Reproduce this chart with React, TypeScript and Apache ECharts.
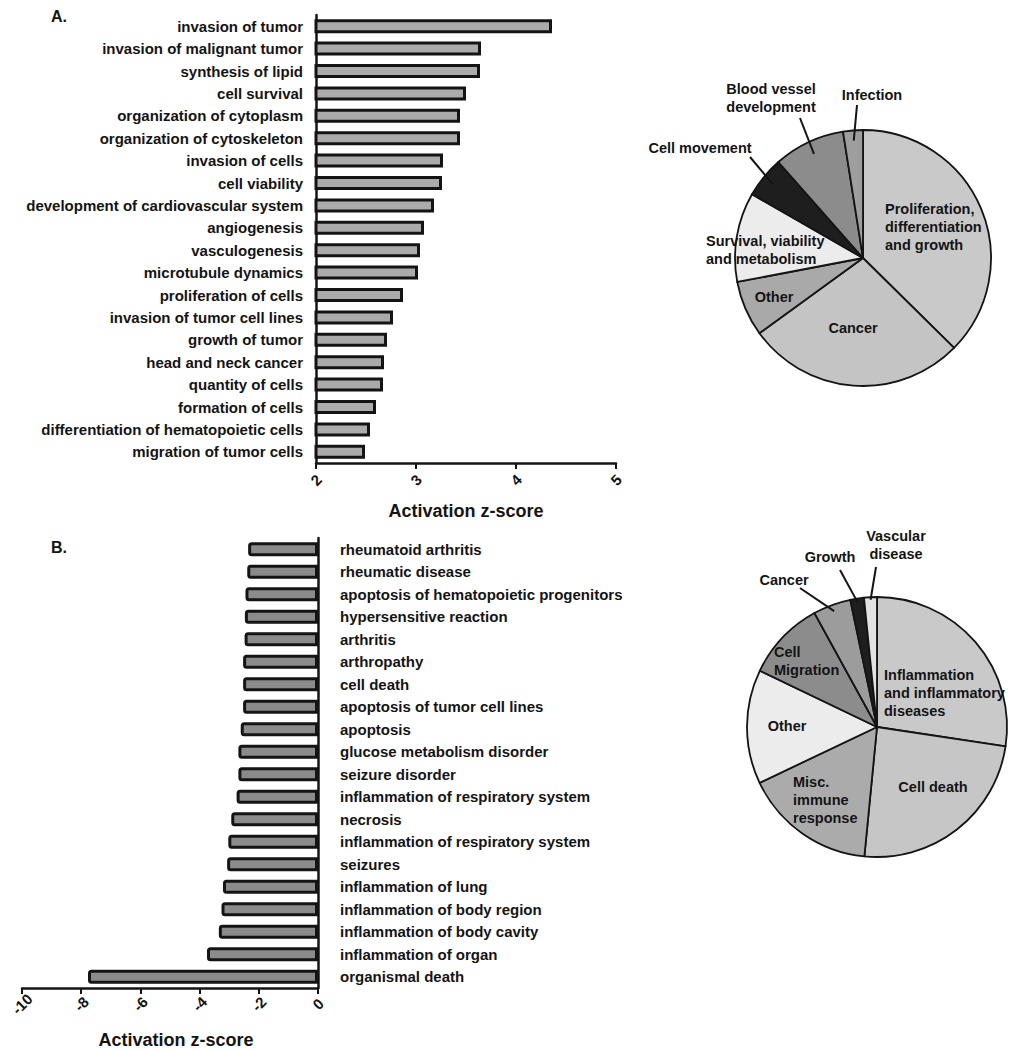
import React, { useEffect, useRef } from 'react';
import * as echarts from 'echarts';

// ---------- data ----------
const catsA = [
  'invasion of tumor',
  'invasion of malignant tumor',
  'synthesis of lipid',
  'cell survival',
  'organization of cytoplasm',
  'organization of cytoskeleton',
  'invasion of cells',
  'cell viability',
  'development of cardiovascular system',
  'angiogenesis',
  'vasculogenesis',
  'microtubule dynamics',
  'proliferation of cells',
  'invasion of tumor cell lines',
  'growth of tumor',
  'head and neck cancer',
  'quantity of cells',
  'formation of cells',
  'differentiation of hematopoietic cells',
  'migration of tumor cells',
];
const valsA = [4.36, 3.65, 3.64, 3.5, 3.44, 3.44, 3.27, 3.26, 3.18, 3.08, 3.04, 3.02, 2.87, 2.77, 2.71, 2.68, 2.67, 2.6, 2.54, 2.49];

const catsB = [
  'rheumatoid arthritis',
  'rheumatic disease',
  'apoptosis of hematopoietic progenitors',
  'hypersensitive reaction',
  'arthritis',
  'arthropathy',
  'cell death',
  'apoptosis of tumor cell lines',
  'apoptosis',
  'glucose metabolism disorder',
  'seizure disorder',
  'inflammation of respiratory system',
  'necrosis',
  'inflammation of respiratory system',
  'seizures',
  'inflammation of lung',
  'inflammation of body region',
  'inflammation of body cavity',
  'inflammation of organ',
  'organismal death',
];
const valsB = [-2.36, -2.39, -2.45, -2.47, -2.48, -2.53, -2.53, -2.53, -2.61, -2.69, -2.69, -2.75, -2.93, -3.03, -3.07, -3.21, -3.26, -3.35, -3.75, -7.77];

const pieALabels = ['Proliferation,\ndifferentiation\nand growth', 'Cancer', 'Other', 'Survival, viability\nand metabolism', 'Cell movement', 'Blood vessel\ndevelopment', 'Infection'];
const pieAVals = [37.4, 27.6, 7.0, 11.3, 5.2, 9.0, 2.5];

const pieBLabels = ['Inflammation\nand inflammatory\ndiseases', 'Cell death', 'Misc.\nimmune\nresponse', 'Other', 'Cell\nMigration', 'Cancer', 'Growth', 'Vascular\ndisease'];
const pieBVals = [27.4, 24.2, 16.4, 14.2, 9.9, 4.7, 1.7, 1.6];

// ---------- styles / layout ----------
const FONT = '"Liberation Sans", Arial, Helvetica, sans-serif';
const INK = '#141414';
const pieAColors = ['#c9c9c9', '#c4c4c4', '#a9a9a9', '#ececec', '#1e1e1e', '#8c8c8c', '#9e9e9e'];
const pieBColors = ['#c9c9c9', '#c6c6c6', '#ababab', '#ececec', '#8c8c8c', '#9c9c9c', '#1e1e1e', '#e2e2e2'];

const PIE_A = { cx: 863, cy: 258, r: 128 };
const PIE_B = { cx: 877, cy: 727, r: 130 };

// label placement offsets (relative to pie centre)
const pieALabelPos = [
  { dx: 22, dy: -31, align: 'left' },
  { dx: -10, dy: 70, align: 'center' },
  { dx: -89, dy: 39, align: 'center' },
  { dx: -157, dy: -8, align: 'left' },
  { dx: -163, dy: -110, align: 'center' },
  { dx: -92, dy: -160, align: 'center' },
  { dx: 9, dy: -163, align: 'center' },
];
const pieBLabelPos = [
  { dx: 7, dy: -34, align: 'left' },
  { dx: 56, dy: 60, align: 'center' },
  { dx: -84, dy: 73, align: 'left' },
  { dx: -90, dy: -1, align: 'center' },
  { dx: -103, dy: -66, align: 'left' },
  { dx: -93, dy: -147, align: 'center' },
  { dx: -47, dy: -170, align: 'center' },
  { dx: 19, dy: -182, align: 'center' },
];
// leader lines: slice index, start point offset from centre, inner fraction of radius
const leadersA = [
  { i: 4, sx: -113, sy: -101, f: 0.91 },
  { i: 5, sx: -63, sy: -140, f: 0.9 },
  { i: 6, sx: -6, sy: -153, f: 0.92 },
];
const leadersB = [
  { i: 5, sx: -77, sy: -139, f: 0.95 },
  { i: 6, sx: -37, sy: -157, f: 0.97 },
  { i: 7, sx: -1, sy: -160, f: 0.98 },
];

function midPoint(vals: number[], idx: number, pie: { cx: number; cy: number; r: number }, f: number) {
  const total = vals.reduce((a, b) => a + b, 0);
  let cum = 0;
  for (let k = 0; k < idx; k++) cum += vals[k];
  const a = ((cum + vals[idx] / 2) / total) * Math.PI * 2;
  return [pie.cx + Math.sin(a) * pie.r * f, pie.cy - Math.cos(a) * pie.r * f];
}

function leaderGraphics(leaders: any[], vals: number[], pie: any) {
  return leaders.map((l) => {
    const [x2, y2] = midPoint(vals, l.i, pie, l.f);
    return {
      type: 'line',
      silent: true,
      z: 100,
      shape: { x1: pie.cx + l.sx, y1: pie.cy + l.sy, x2, y2 },
      style: { stroke: INK, lineWidth: 2 },
    };
  });
}

const axisLineStyle = { color: INK, width: 2.5 };

export default function App() {
  const ref = useRef<HTMLDivElement>(null);
  useEffect(() => {
    document.body.style.margin = '0';
    const chart = echarts.init(ref.current!, undefined, { renderer: 'svg' });

    const pieLabel = {
      show: true,
      position: 'inside',
      fontSize: 14.5,
      fontWeight: 'bold',
      fontFamily: FONT,
      color: INK,
      lineHeight: 18,
    };

    const option: any = {
      animation: false,
      backgroundColor: '#ffffff',
      textStyle: { fontFamily: FONT },
      title: [
        { text: 'A.', left: 46, top: 3, textStyle: { fontSize: 16, fontWeight: 'bold', color: INK, fontFamily: FONT } },
        { text: 'B.', left: 46, top: 534, textStyle: { fontSize: 16, fontWeight: 'bold', color: INK, fontFamily: FONT } },
      ],
      grid: [
        { left: 316, top: 15, width: 300, height: 448 },
        { left: 22, top: 538, width: 296, height: 450 },
      ],
      xAxis: [
        {
          gridIndex: 0,
          type: 'value',
          min: 2,
          max: 5,
          interval: 1,
          splitLine: { show: false },
          axisLine: { show: true, lineStyle: axisLineStyle },
          axisTick: { show: true, length: 6, lineStyle: { color: INK, width: 2 } },
          axisLabel: { rotate: 45, margin: 17, align: 'center', verticalAlign: 'middle', fontSize: 15, fontWeight: 'bold', color: INK, fontFamily: FONT },
          name: 'Activation z-score',
          nameLocation: 'middle',
          nameGap: 39,
          nameTextStyle: { fontSize: 18, fontWeight: 'bold', color: INK, fontFamily: FONT },
        },
        {
          gridIndex: 1,
          type: 'value',
          min: -10,
          max: 0,
          interval: 2,
          splitLine: { show: false },
          axisLine: { show: true, lineStyle: axisLineStyle },
          axisTick: { show: true, length: 6, lineStyle: { color: INK, width: 2 } },
          axisLabel: { rotate: 45, margin: 16, align: 'center', verticalAlign: 'middle', fontSize: 15, fontWeight: 'bold', color: INK, fontFamily: FONT },
          name: 'Activation z-score',
          nameLocation: 'middle',
          nameGap: 43,
          nameTextStyle: { fontSize: 18, fontWeight: 'bold', color: INK, fontFamily: FONT, padding: [0, 0, 0, 12] },
        },
      ],
      yAxis: [
        {
          gridIndex: 0,
          type: 'category',
          data: catsA,
          inverse: true,
          axisLine: { show: true, lineStyle: axisLineStyle },
          axisTick: { show: false },
          axisLabel: { margin: 13, fontSize: 15, fontWeight: 'bold', color: INK, fontFamily: FONT, interval: 0 },
        },
        {
          gridIndex: 1,
          type: 'category',
          data: catsB,
          inverse: true,
          position: 'right',
          axisLine: { show: true, lineStyle: axisLineStyle },
          axisTick: { show: false },
          axisLabel: { margin: 22, fontSize: 15, fontWeight: 'bold', color: INK, fontFamily: FONT, interval: 0 },
        },
      ],
      series: [
        {
          type: 'bar',
          xAxisIndex: 0,
          yAxisIndex: 0,
          data: valsA,
          barWidth: 14,
          silent: true,
          itemStyle: { color: '#ababab', borderColor: INK, borderWidth: 3 },
        },
        {
          type: 'bar',
          xAxisIndex: 1,
          yAxisIndex: 1,
          data: valsB,
          barWidth: 14,
          silent: true,
          itemStyle: { color: '#8b8b8b', borderColor: INK, borderWidth: 3, borderRadius: [2, 0, 0, 2] },
        },
        {
          type: 'pie',
          center: [PIE_A.cx, PIE_A.cy],
          radius: PIE_A.r,
          startAngle: 90,
          clockwise: true,
          silent: true,
          avoidLabelOverlap: false,
          data: pieAVals.map((v, i) => ({ value: v, name: pieALabels[i], itemStyle: { color: pieAColors[i] } })),
          itemStyle: { borderColor: INK, borderWidth: 1.8 },
          label: { ...pieLabel, formatter: '{b}' },
          labelLine: { show: false },
          labelLayout: (p: any) => {
            const pos = pieALabelPos[p.dataIndex];
            return { x: PIE_A.cx + pos.dx, y: PIE_A.cy + pos.dy, align: pos.align, verticalAlign: 'middle' };
          },
        },
        {
          type: 'pie',
          center: [PIE_B.cx, PIE_B.cy],
          radius: PIE_B.r,
          startAngle: 90,
          clockwise: true,
          silent: true,
          avoidLabelOverlap: false,
          data: pieBVals.map((v, i) => ({ value: v, name: pieBLabels[i], itemStyle: { color: pieBColors[i] } })),
          itemStyle: { borderColor: INK, borderWidth: 1.8 },
          label: { ...pieLabel, formatter: '{b}' },
          labelLine: { show: false },
          labelLayout: (p: any) => {
            const pos = pieBLabelPos[p.dataIndex];
            return { x: PIE_B.cx + pos.dx, y: PIE_B.cy + pos.dy, align: pos.align, verticalAlign: 'middle' };
          },
        },
      ],
      graphic: [...leaderGraphics(leadersA, pieAVals, PIE_A), ...leaderGraphics(leadersB, pieBVals, PIE_B)],
    };

    chart.setOption(option);
    return () => chart.dispose();
  }, []);

  return <div ref={ref} style={{ width: 1011, height: 1050 }} />;
}
